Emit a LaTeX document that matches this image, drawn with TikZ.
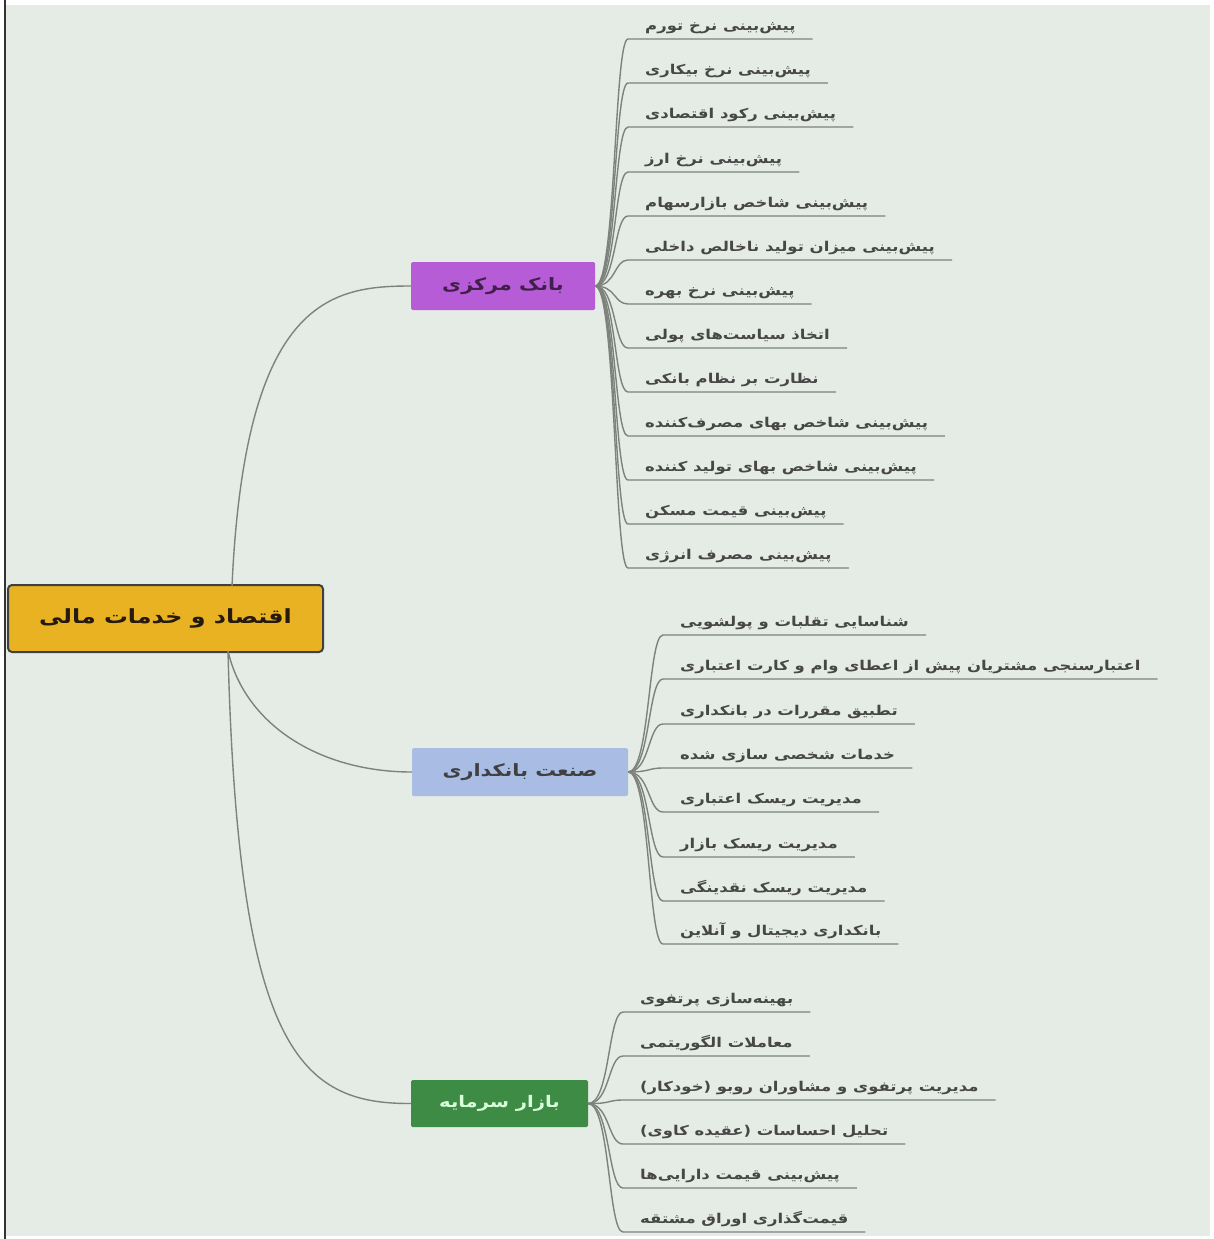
\documentclass[tikz,border=0pt]{standalone}
\usepackage{fontspec}
\newfontfamily\arabicfont[Script=Arabic,FakeStretch=1.22]{DejaVu Sans}
\TeXXeTstate=1
\definecolor{paper}{RGB}{229,236,229}
\definecolor{twig}{RGB}{125,130,125}
\definecolor{gold}{RGB}{232,178,34}
\definecolor{violet}{RGB}{182,92,214}
\definecolor{sky}{RGB}{168,188,228}
\definecolor{forest}{RGB}{62,139,70}

\begin{document}
\begin{tikzpicture}[
									x = 1pt,
									y = -1pt,
									rootbox/.style = {
										draw = black!75,
										line width = 2pt,
										rounded corners = 4pt,
										fill = gold,
										text = black!80!brown,
										minimum width = 315pt,
										minimum height = 67pt,
										font = \arabicfont\bfseries\fontsize{19.5}{24}\selectfont
									},
									topic/.style = {
										rectangle,
										rounded corners = 1.5pt,
										minimum height = 48pt,
										font = \arabicfont\bfseries\fontsize{17}{20}\selectfont
									},
									leaf/.style = {
										anchor = south west,
										inner xsep = 17pt,
										inner ysep = 5pt,
										text = black!72,
										font = \arabicfont\bfseries\fontsize{13.5}{16}\selectfont
									},
									twigline/.style = {
										draw = twig,
										line width = 1.4pt
									}
								]
							\useasboundingbox (0, 0) rectangle (1214, 1239);
							\fill [white] (0, 0) rectangle (1214, 1239);
							\fill [paper] (6, 5) rectangle (1210, 1236);
							\draw [black!80, line width = 2.5pt] (5, 0) -- (5, 1239);

							\node [rootbox] (econ) at (165.5, 618.5) {\beginR اقتصاد و خدمات مالی\endR};

							\node [topic, fill = violet, text = violet!35!black, minimum width = 184pt] (cbank) at (503, 286) {\beginR بانک مرکزی\endR};
							\node [topic, fill = sky, text = black!75, minimum width = 216pt] (bankind) at (520, 772) {\beginR صنعت بانکداری\endR};
							\node [topic, fill = forest, text = green!15, minimum width = 177pt, minimum height = 47pt, font = \arabicfont\bfseries\fontsize{16}{19}\selectfont] (capmkt) at (499.5, 1103.5) {\beginR بازار سرمایه\endR};

							\coordinate (econtop) at (232, 586);
							\coordinate (econbot) at (228, 651);

							\draw [twigline] (econtop) .. controls (245, 300) and (330, 286) .. (cbank.west);
							\draw [twigline] (econbot) .. controls (245, 725) and (320, 772) .. (bankind.west);
							\draw [twigline] (econbot) .. controls (238, 1050) and (300, 1104) .. (capmkt.west);

							\node [leaf] (cb1) at (628, 39) {\beginR پیش‌بینی نرخ تورم\endR};
							\node [leaf] (cb2) at (628, 83) {\beginR پیش‌بینی نرخ بیکاری\endR};
							\node [leaf] (cb3) at (628, 127) {\beginR پیش‌بینی رکود اقتصادی\endR};
							\node [leaf] (cb4) at (628, 172) {\beginR پیش‌بینی نرخ ارز\endR};
							\node [leaf] (cb5) at (628, 216) {\beginR پیش‌بینی شاخص بازارسهام\endR};
							\node [leaf] (cb6) at (628, 260) {\beginR پیش‌بینی میزان تولید ناخالص داخلی\endR};
							\node [leaf] (cb7) at (628, 304) {\beginR پیش‌بینی نرخ بهره\endR};
							\node [leaf] (cb8) at (628, 348) {\beginR اتخاذ سیاست‌های پولی\endR};
							\node [leaf] (cb9) at (628, 392) {\beginR نظارت بر نظام بانکی\endR};
							\node [leaf] (cb10) at (628, 436) {\beginR پیش‌بینی شاخص بهای مصرف‌کننده\endR};
							\node [leaf] (cb11) at (628, 480) {\beginR پیش‌بینی شاخص بهای تولید کننده\endR};
							\node [leaf] (cb12) at (628, 524) {\beginR پیش‌بینی قیمت مسکن\endR};
							\node [leaf] (cb13) at (628, 568) {\beginR پیش‌بینی مصرف انرژی\endR};

							\draw [twigline] (cbank.east) .. controls (616, 286) and (614, 39) .. (cb1.south west) -- (cb1.south east);
							\draw [twigline] (cbank.east) .. controls (616, 286) and (614, 83) .. (cb2.south west) -- (cb2.south east);
							\draw [twigline] (cbank.east) .. controls (616, 286) and (614, 127) .. (cb3.south west) -- (cb3.south east);
							\draw [twigline] (cbank.east) .. controls (616, 286) and (614, 172) .. (cb4.south west) -- (cb4.south east);
							\draw [twigline] (cbank.east) .. controls (616, 286) and (614, 216) .. (cb5.south west) -- (cb5.south east);
							\draw [twigline] (cbank.east) .. controls (616, 286) and (614, 260) .. (cb6.south west) -- (cb6.south east);
							\draw [twigline] (cbank.east) .. controls (616, 286) and (614, 304) .. (cb7.south west) -- (cb7.south east);
							\draw [twigline] (cbank.east) .. controls (616, 286) and (614, 348) .. (cb8.south west) -- (cb8.south east);
							\draw [twigline] (cbank.east) .. controls (616, 286) and (614, 392) .. (cb9.south west) -- (cb9.south east);
							\draw [twigline] (cbank.east) .. controls (616, 286) and (614, 436) .. (cb10.south west) -- (cb10.south east);
							\draw [twigline] (cbank.east) .. controls (616, 286) and (614, 480) .. (cb11.south west) -- (cb11.south east);
							\draw [twigline] (cbank.east) .. controls (616, 286) and (614, 524) .. (cb12.south west) -- (cb12.south east);
							\draw [twigline] (cbank.east) .. controls (616, 286) and (614, 568) .. (cb13.south west) -- (cb13.south east);

							\node [leaf] (bk1) at (663, 635) {\beginR شناسایی تقلبات و پولشویی\endR};
							\node [leaf] (bk2) at (663, 679) {\beginR اعتبارسنجی مشتریان پیش از اعطای وام و کارت اعتباری\endR};
							\node [leaf] (bk3) at (663, 724) {\beginR تطبیق مقررات در بانکداری\endR};
							\node [leaf] (bk4) at (663, 768) {\beginR خدمات شخصی سازی شده\endR};
							\node [leaf] (bk5) at (663, 812) {\beginR مدیریت ریسک اعتباری\endR};
							\node [leaf] (bk6) at (663, 857) {\beginR مدیریت ریسک بازار\endR};
							\node [leaf] (bk7) at (663, 901) {\beginR مدیریت ریسک نقدینگی\endR};
							\node [leaf] (bk8) at (663, 944) {\beginR بانکداری دیجیتال و آنلاین\endR};

							\draw [twigline] (bankind.east) .. controls (650, 772) and (648, 635) .. (bk1.south west) -- (bk1.south east);
							\draw [twigline] (bankind.east) .. controls (650, 772) and (648, 679) .. (bk2.south west) -- (bk2.south east);
							\draw [twigline] (bankind.east) .. controls (650, 772) and (648, 724) .. (bk3.south west) -- (bk3.south east);
							\draw [twigline] (bankind.east) .. controls (650, 772) and (648, 768) .. (bk4.south west) -- (bk4.south east);
							\draw [twigline] (bankind.east) .. controls (650, 772) and (648, 812) .. (bk5.south west) -- (bk5.south east);
							\draw [twigline] (bankind.east) .. controls (650, 772) and (648, 857) .. (bk6.south west) -- (bk6.south east);
							\draw [twigline] (bankind.east) .. controls (650, 772) and (648, 901) .. (bk7.south west) -- (bk7.south east);
							\draw [twigline] (bankind.east) .. controls (650, 772) and (648, 944) .. (bk8.south west) -- (bk8.south east);

							\node [leaf] (cm1) at (623, 1012) {\beginR بهینه‌سازی پرتفوی\endR};
							\node [leaf] (cm2) at (623, 1056) {\beginR معاملات الگوریتمی\endR};
							\node [leaf] (cm3) at (623, 1100) {\beginR مدیریت پرتفوی و مشاوران روبو (خودکار)\endR};
							\node [leaf] (cm4) at (623, 1144) {\beginR تحلیل احساسات (عقیده کاوی)\endR};
							\node [leaf] (cm5) at (623, 1188) {\beginR پیش‌بینی قیمت دارایی‌ها\endR};
							\node [leaf] (cm6) at (623, 1232) {\beginR قیمت‌گذاری اوراق مشتقه\endR};

							\draw [twigline] (capmkt.east) .. controls (610, 1104) and (608, 1012) .. (cm1.south west) -- (cm1.south east);
							\draw [twigline] (capmkt.east) .. controls (610, 1104) and (608, 1056) .. (cm2.south west) -- (cm2.south east);
							\draw [twigline] (capmkt.east) .. controls (610, 1104) and (608, 1100) .. (cm3.south west) -- (cm3.south east);
							\draw [twigline] (capmkt.east) .. controls (610, 1104) and (608, 1144) .. (cm4.south west) -- (cm4.south east);
							\draw [twigline] (capmkt.east) .. controls (610, 1104) and (608, 1188) .. (cm5.south west) -- (cm5.south east);
							\draw [twigline] (capmkt.east) .. controls (610, 1104) and (608, 1232) .. (cm6.south west) -- (cm6.south east);
						\end{tikzpicture}
\end{document}
